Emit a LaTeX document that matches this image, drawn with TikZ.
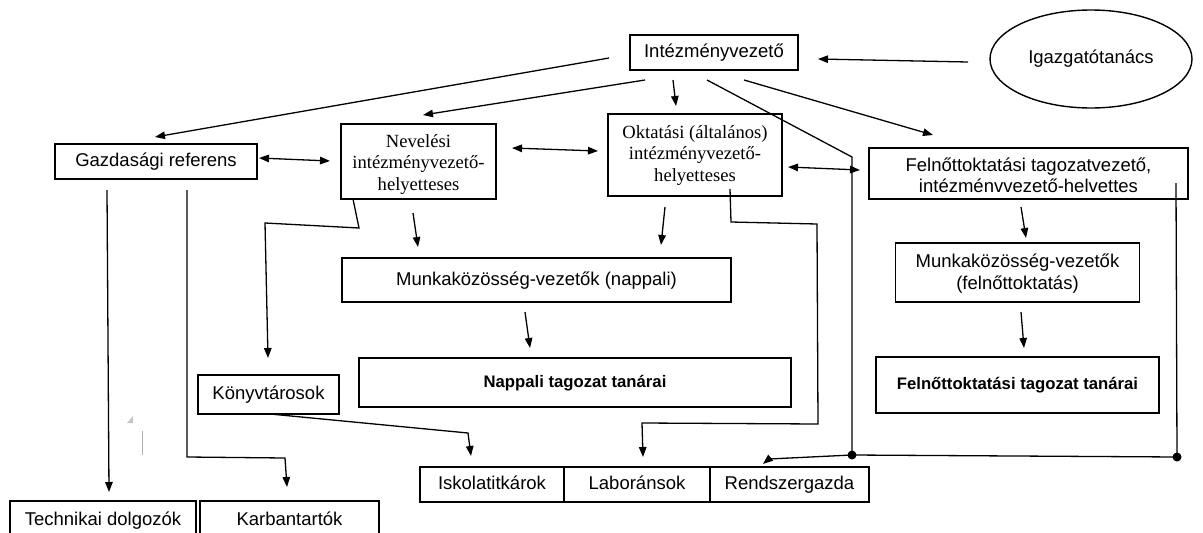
\documentclass[tikz,border=0pt]{standalone}
\usepackage{fontspec}
\setmainfont{Liberation Sans}
\newfontfamily\tnr{Liberation Serif}
\usetikzlibrary{arrows.meta,shapes.geometric}
\begin{document}
\begin{tikzpicture}[x=1pt,y=-1pt,
  box/.style={draw,line width=1.4pt,inner sep=0pt,align=center,text height=13.5pt,text depth=3pt,font=\fontsize{18.5}{21.5}\selectfont},
  sbox/.style={box,font=\tnr\fontsize{18.6}{21.5}\selectfont},
  bbox/.style={box,text height=12pt,text depth=3pt,font=\bfseries\fontsize{16.7}{20}\selectfont},
  conn/.style={line width=1.3pt},
  arr/.style={conn,-{Triangle[length=10pt,width=7.5pt]}},
  darr/.style={conn,{Triangle[length=10pt,width=7.5pt]}-{Triangle[length=10pt,width=7.5pt]}},
  dotnode/.style={circle,fill,inner sep=0pt,minimum size=9pt}
]
\useasboundingbox (0,0) rectangle (1203,533);
% nodes
\node[box,minimum width=168pt,minimum height=35pt] (iv) at (714,52.5) {Intézményvezető};
\node[draw,line width=1.4pt,ellipse,minimum width=202pt,minimum height=98pt,inner sep=0pt,font=\fontsize{18.5}{22}\selectfont] (igt) at (1091,59) {Igazgatótanács};
\node[box,minimum width=202pt,minimum height=35pt] (gaz) at (156,161.5) {Gazdasági referens};
\node[sbox,minimum width=155pt,minimum height=75pt,text height=62pt,text depth=5pt] (nev) at (418.5,161.5) {Nevelési\\intézményvezető-\\helyetteses};
\node[sbox,minimum width=174pt,minimum height=82pt,text height=57pt,text depth=5pt] (okt) at (695,155) {Oktatási (általános)\\intézményvezető-\\helyetteses};
\node[box,minimum width=319pt,minimum height=51pt,text height=38.5pt,text depth=0pt] (fel) at (1028.5,173.5) {Felnőttoktatási tagozatvezető,\\intézménvvezető-helvettes};
\node[box,minimum width=389pt,minimum height=44pt] (mkn) at (536.5,280) {Munkaközösség-vezetők (nappali)};
\node[box,minimum width=244pt,minimum height=59pt,text height=35pt,text depth=1.5pt] (mkf) at (1017.5,272.5) {Munkaközösség-vezetők\\(felnőttoktatás)};
\node[box,minimum width=141pt,minimum height=39pt] (kv) at (268.5,394.5) {Könyvtárosok};
\node[bbox,minimum width=432pt,minimum height=49pt] (nt) at (575,382.5) {Nappali tagozat tanárai};
\node[bbox,minimum width=283pt,minimum height=56pt] (ft) at (1017.5,385) {Felnőttoktatási tagozat tanárai};
\node[box,minimum width=144pt,minimum height=35pt] (isk) at (492,484.5) {Iskolatitkárok};
\node[box,minimum width=146pt,minimum height=35pt] (lab) at (637,484.5) {Laboránsok};
\node[box,minimum width=159pt,minimum height=35pt] (rend) at (789.5,484.5) {Rendszergazda};
\node[box,minimum width=186pt,minimum height=38pt] (tech) at (103,520) {Technikai dolgozók};
\node[box,minimum width=179pt,minimum height=38pt] (karb) at (289.5,520) {Karbantartók};
\node[dotnode] (d1) at (852,455) {};
\node[dotnode] (d2) at (1177,457) {};
% coordinates
\coordinate (a1s) at (609,58);   \coordinate (a1e) at (155,137);
\coordinate (a2s) at (645,80);   \coordinate (a2e) at (423,115);
\coordinate (a3s) at (673,80);   \coordinate (a3e) at (676,106);
\coordinate (a4s) at (707,80);   \coordinate (a4b) at (852,157);
\coordinate (a5s) at (744,80);   \coordinate (a5e) at (933,135);
\coordinate (a6s) at (968,62);   \coordinate (a6e) at (818,59);
\coordinate (b1s) at (259,158);  \coordinate (b1e) at (330,161);
\coordinate (b2s) at (512,148);  \coordinate (b2e) at (598,151);
\coordinate (b3s) at (788,167);  \coordinate (b3e) at (860,170);
\coordinate (c1s) at (413,213);  \coordinate (c1e) at (418,247);
\coordinate (c2s) at (665,207);  \coordinate (c2e) at (661,245);
\coordinate (c3s) at (353,199);  \coordinate (c3a) at (359,228);
\coordinate (c3b) at (265,223);  \coordinate (c3e) at (268,358);
\coordinate (c4s) at (730,189);  \coordinate (c4a) at (731,222);
\coordinate (c4b) at (817,224);  \coordinate (c4c) at (818,424);
\coordinate (c4d) at (642,423);  \coordinate (c4e) at (643,457);
\coordinate (c5s) at (525,312);  \coordinate (c5e) at (530,348);
\coordinate (c6s) at (1021,207); \coordinate (c6e) at (1026,238);
\coordinate (c7s) at (1021,312); \coordinate (c7e) at (1024,348);
\coordinate (c8s) at (270,414);  \coordinate (c8a) at (468,433); \coordinate (c8e) at (471,456);
\coordinate (c9s) at (107,190);  \coordinate (c9e) at (109,492);
\coordinate (c10s) at (187,190); \coordinate (c10a) at (187,457);
\coordinate (c10b) at (285,458); \coordinate (c10e) at (287,487);
\coordinate (c11s) at (1176,183);
\coordinate (c12a) at (769,459); \coordinate (c12e) at (763,464);
% connectors
\draw[arr] (a1s) -- (a1e);
\draw[arr] (a2s) -- (a2e);
\draw[arr] (a3s) -- (a3e);
\draw[conn] (a4s) -- (a4b) -- (d1.center);
\draw[arr] (a5s) -- (a5e);
\draw[arr] (a6s) -- (a6e);
\draw[darr] (b1s) -- (b1e);
\draw[darr] (b2s) -- (b2e);
\draw[darr] (b3s) -- (b3e);
\draw[arr] (c1s) -- (c1e);
\draw[arr] (c2s) -- (c2e);
\draw[arr] (c3s) -- (c3a) -- (c3b) -- (c3e);
\draw[arr] (c4s) -- (c4a) -- (c4b) -- (c4c) -- (c4d) -- (c4e);
\draw[arr] (c5s) -- (c5e);
\draw[arr] (c6s) -- (c6e);
\draw[arr] (c7s) -- (c7e);
\draw[arr] (c8s) -- (c8a) -- (c8e);
\draw[arr] (c9s) -- (c9e);
\draw[arr] (c10s) -- (c10a) -- (c10b) -- (c10e);
\draw[conn] (c11s) -- (d2.center);
\draw[conn] (d1.center) -- (d2.center);
\draw[arr] (d1.center) -- (c12a) -- (c12e);
% small grey marks
\fill[gray!45] (127,423) -- (133,416) -- (133,423) -- cycle;
\draw[gray!60,line width=1pt] (142.5,431) -- (142.5,455);
\end{tikzpicture}
\end{document}
